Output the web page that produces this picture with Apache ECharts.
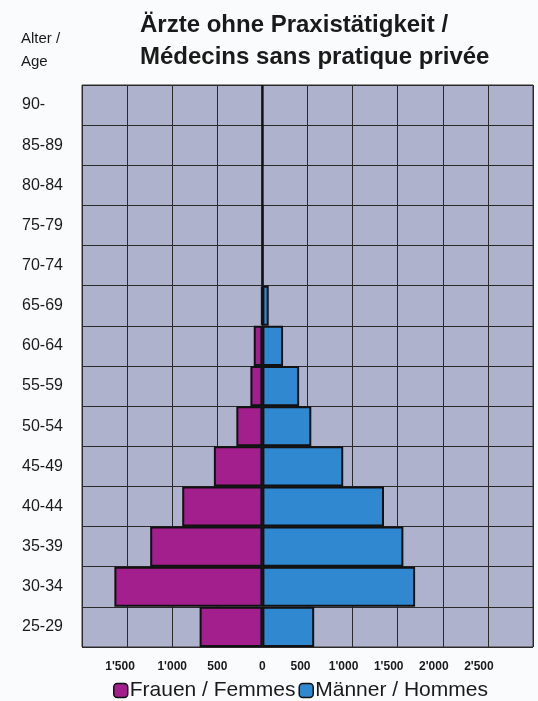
<!DOCTYPE html>
<html>
<head>
<meta charset="utf-8">
<script src="https://cdn.jsdelivr.net/npm/echarts@6/dist/echarts.min.js"></script>
<style>
html,body{margin:0;padding:0;background:#fafbfc;}
#c{width:538px;height:701px;}
</style>
</head>
<body>
<div id="c"></div>
<script>
const ageGroups = ['25-29','30-34','35-39','40-44','45-49','50-54','55-59','60-64','65-69','70-74','75-79','80-84','85-89','90-'];
const frauen = [696, 1641, 1244, 889, 538, 289, 133, 96, 12, 4, 4, 0, 2, 0];
const maenner = [574, 1693, 1563, 1348, 896, 542, 407, 229, 70, 8, 8, 0, 5, 0];
const xTicks = [-2000, -1500, -1000, -500, 0, 500, 1000, 1500, 2000, 2500, 3000];
const hiddenTicks = [-2000, 3000];

function txt(v){
  const a = Math.abs(v);
  if (a >= 1000) {
    const th = Math.floor(a/1000), rest = String(a%1000).padStart(3,'0');
    return th + "'" + rest;
  }
  return String(a);
}
function fmt(v){
  if (hiddenTicks.indexOf(v) >= 0) return '';
  let cls = 'c';
  if (v === -1500 || v === 500) cls = 'a';
  else if (v > 500) cls = 'b';
  return '{' + cls + '|' + txt(v) + '}';
}

const lblStyle = {fontSize: 12, fontWeight: 'bold', color: '#1a1a1a', fontFamily: 'Liberation Sans, Arial, sans-serif'};

const chart = echarts.init(document.getElementById('c'));
chart.setOption({
  animation: false,
  backgroundColor: '#fafbfc',
  textStyle: {fontFamily: 'Liberation Sans, Arial, sans-serif'},
  title: [{
    text: 'Ärzte ohne Praxistätigkeit /\nMédecins sans pratique privée',
    left: 140, top: 9, padding: 0,
    textStyle: {fontSize: 24, fontWeight: 'bold', color: '#1a1a1a', lineHeight: 32, fontFamily: 'Liberation Sans, Arial, sans-serif'}
  },{
    text: 'Alter /\nAge',
    left: 21, top: 27, padding: 0,
    textStyle: {fontSize: 15, fontWeight: 'normal', color: '#1a1a1a', lineHeight: 23, fontFamily: 'Liberation Sans, Arial, sans-serif'}
  }],
  legend: {
    top: 680, left: 113, padding: 0,
    itemWidth: 14, itemHeight: 14, itemGap: 3,
    textStyle: {fontSize: 21, color: '#1a1a1a', padding: [0,0,0,-3]},
    data: [
      {name: 'Frauen / Femmes', itemStyle: {color: '#a21f8d', borderColor: '#111', borderWidth: 1.5}},
      {name: 'Männer / Hommes', itemStyle: {color: '#3088d0', borderColor: '#111', borderWidth: 1.5}}
    ]
  },
  grid: {
    left: 82, right: 5, top: 85, bottom: 54,
    show: true, backgroundColor: '#afb2cc', borderColor: '#333', borderWidth: 1
  },
  xAxis: {
    type: 'value', min: xTicks[0], max: xTicks[xTicks.length-1], interval: 500,
    axisLine: {show: false}, axisTick: {show: false},
    axisLabel: {
      formatter: fmt, margin: 14,
      rich: {
        a: Object.assign({padding: [0, 14, 0, 0]}, lblStyle),
        b: Object.assign({padding: [0, 18, 0, 0]}, lblStyle),
        c: Object.assign({}, lblStyle)
      }
    },
    splitLine: {show: true, lineStyle: {color: '#2a2a2a', width: 1}}
  },
  yAxis: {
    type: 'category', data: ageGroups,
    axisLine: {show: false}, axisTick: {show: false},
    axisLabel: {fontSize: 16, color: '#1a1a1a', align: 'left', margin: 60},
    splitLine: {show: true, lineStyle: {color: '#2a2a2a', width: 1}}
  },
  series: [
    {
      name: 'Frauen / Femmes', type: 'bar', stack: 'p',
      data: frauen.map(v => -v), barWidth: '100%',
      itemStyle: {color: '#a21f8d', borderColor: '#111', borderWidth: 2}
    },
    {
      name: 'Männer / Hommes', type: 'bar', stack: 'p',
      data: maenner, barWidth: '100%',
      itemStyle: {color: '#3088d0', borderColor: '#111', borderWidth: 2}
    }
  ]
});
</script>
</body>
</html>
